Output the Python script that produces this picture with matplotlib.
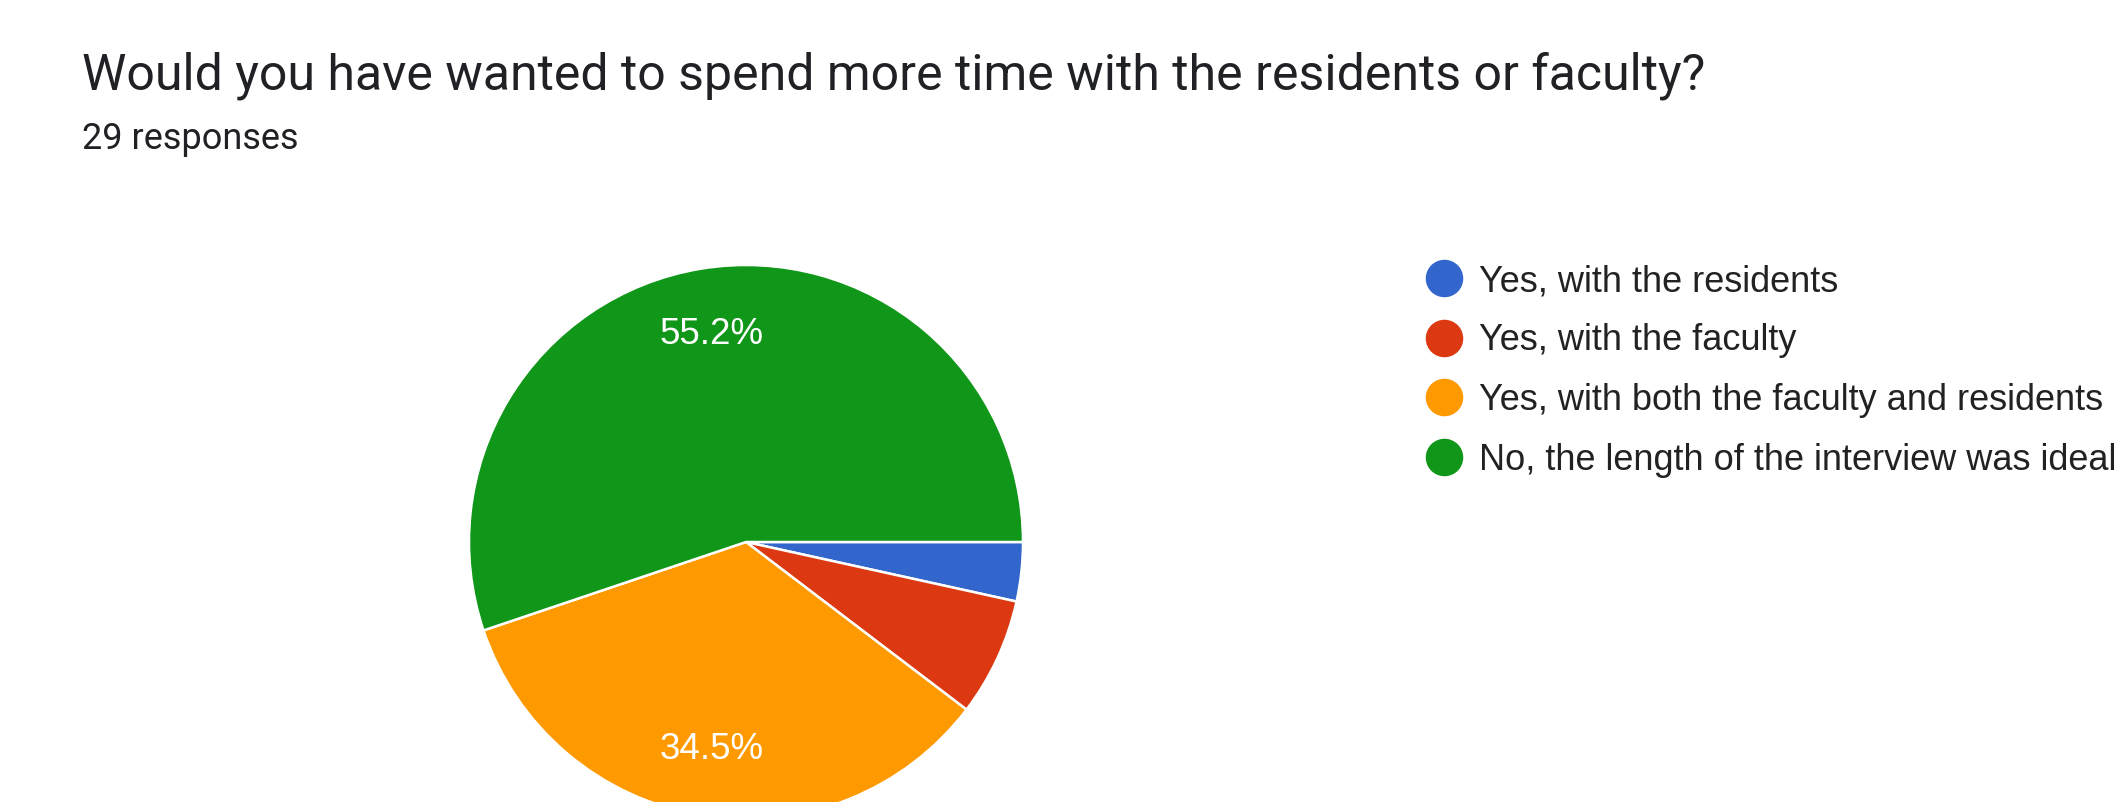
import matplotlib.pyplot as plt
from matplotlib.lines import Line2D

title = "Would you have wanted to spend more time with the residents or faculty?"
subtitle = "29 responses"
labels = ["Yes, with the residents",
          "Yes, with the faculty",
          "Yes, with both the faculty and residents",
          "No, the length of the interview was ideal"]
counts = [1, 2, 10, 16]
colors = ["#3366cc", "#dc3912", "#ff9900", "#109618"]

W, H = 2114, 802
fig = plt.figure(figsize=(W / 100, H / 100), dpi=100)
fig.patch.set_facecolor("white")

# pie axes: centre ~ (746, 542) px, radius ~277 px
cx, cy, r = 746, 542, 277
ax = fig.add_axes([(cx - r) / W, (H - cy - r) / H, 2 * r / W, 2 * r / H])


def pct(p):
    return f"{p:.1f}%" if p > 10 else ""


wedges, texts, autotexts = ax.pie(
    counts, colors=colors, startangle=0, counterclock=False,
    autopct=pct, pctdistance=0.76,
    wedgeprops=dict(edgecolor="white", linewidth=1.8),
    textprops=dict(color="white", fontsize=26.5, family="Liberation Sans"))
ax.set_xlim(-1, 1)
ax.set_ylim(-1, 1)
ax.set_aspect("equal")
ax.axis("off")

fig.text(82 / W, 1 - 89 / H, title, fontsize=36, family="Roboto",
         color="#202124", va="baseline")
fig.text(82 / W, 1 - 149 / H, subtitle, fontsize=26, family="Roboto",
         color="#202124", va="baseline")

# legend
y0, step = 278, 59.5
for i, (lab, col) in enumerate(zip(labels, colors)):
    y = y0 + i * step
    fig.add_artist(Line2D([1444 / W], [1 - y / H], marker="o", markersize=26,
                          color=col, linestyle="none",
                          transform=fig.transFigure))
    fig.text(1479 / W, 1 - (y + 13) / H, lab, fontsize=26,
             family="Liberation Sans", color="#222222", va="baseline")

fig.savefig("out.png", dpi=100)
